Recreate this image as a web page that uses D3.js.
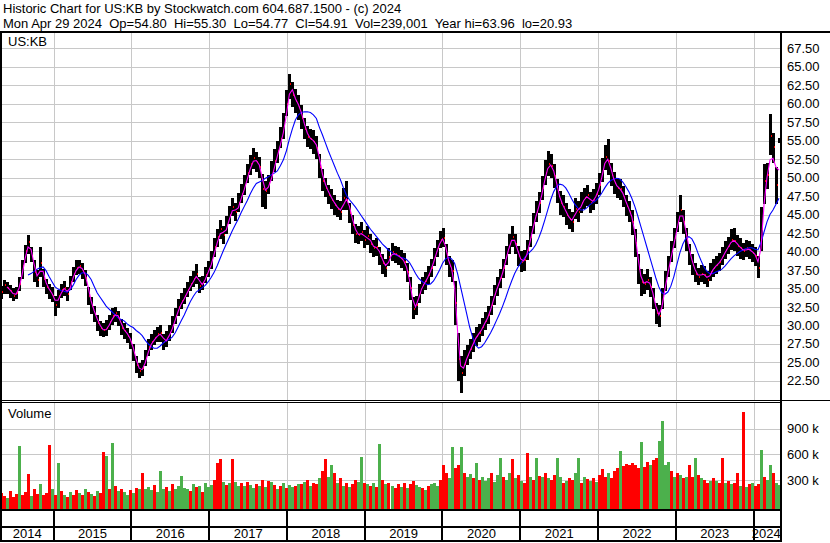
<!DOCTYPE html>
<html><head><meta charset="utf-8">
<script src="https://cdn.jsdelivr.net/npm/d3@7"></script>
<style>
html,body{margin:0;padding:0;background:#fff;}
svg{display:block;font-family:"Liberation Sans",Arial,sans-serif;}
text{white-space:pre;}
</style></head><body>
<svg id="chart" width="830" height="543"></svg>
<script>
const title = "Historic Chart for US:KB by Stockwatch.com 604.687.1500 - (c) 2024";
const subtitle = "Mon Apr 29 2024  Op=54.80  Hi=55.30  Lo=54.77  Cl=54.91  Vol=239,001  Year hi=63.96  lo=20.93";
const symbol = "US:KB";
const volumeTitle = "Volume";
const startDate = "2014-04-29", endDate = "2024-04-29";

const closes = [34.5,35.4,35.0,34.6,34.0,34.4,35.6,38.0,40.0,41.3,
 39.4,37.2,36.2,38.4,36.3,35.2,34.6,34.0,32.8,33.9,
 34.8,35.1,34.2,35.8,37.0,37.8,38.0,37.4,36.4,34.0,
 32.6,31.5,30.3,29.6,29.3,29.6,30.4,31.2,31.6,31.0,
 29.7,29.2,28.6,27.8,26.3,24.6,23.8,24.2,25.6,27.0,
 27.8,28.3,28.8,28.9,27.7,28.2,29.0,30.1,31.3,32.5,
 33.3,34.0,34.8,35.6,36.3,36.9,35.3,35.7,36.8,37.6,
 38.8,40.6,41.9,43.0,42.2,43.6,45.0,46.0,45.3,46.6,
 47.8,49.0,50.6,51.8,52.6,52.1,51.4,48.5,48.2,49.2,
 50.4,52.2,53.6,55.2,57.0,60.0,62.6,61.2,60.3,59.6,
 58.0,56.6,55.5,55.2,54.8,54.0,51.4,49.6,48.6,47.6,
 47.0,46.3,45.8,45.4,47.2,47.0,45.2,43.6,42.4,42.2,
 42.6,41.6,42.1,41.0,40.4,40.6,39.4,38.4,37.8,39.2,
 39.9,39.6,39.4,39.0,38.6,37.2,35.0,32.2,32.8,34.4,
 35.4,36.0,36.8,37.8,39.2,40.4,41.6,41.8,39.6,38.0,
 37.4,33.0,25.4,23.6,24.8,26.0,26.8,27.8,28.6,29.0,
 29.8,30.6,31.4,32.8,34.2,35.4,36.4,37.8,39.6,41.0,
 42.0,41.0,39.4,38.6,38.8,40.2,42.0,43.8,45.4,46.6,
 48.6,50.6,51.8,51.6,50.2,48.2,46.6,46.0,45.0,44.4,
 44.0,45.8,45.4,46.6,47.2,47.6,46.6,47.0,47.8,49.0,
 51.0,52.8,52.2,50.4,49.2,48.6,48.4,47.4,46.2,45.4,
 44.0,41.2,37.6,35.8,35.6,36.2,35.2,33.6,31.6,31.2,
 33.6,36.0,38.0,40.0,41.8,44.0,45.6,44.0,41.6,39.6,
 38.2,37.0,36.6,37.0,36.8,36.2,37.2,37.8,38.2,38.6,
 39.4,40.2,40.8,41.6,41.4,40.8,40.4,40.0,40.4,40.2,
 39.8,39.4,37.8,43.0,49.6,50.4,55.6,54.2,49.0,54.9];

const highs = [35.3,36.2,35.8,35.4,35.0,35.2,36.5,38.8,40.9,42.2,
 40.6,38.9,37.5,40.6,37.6,36.3,35.6,35.2,34.0,34.8,
 35.6,36.0,35.2,36.7,37.9,38.8,38.9,38.4,37.5,35.2,
 33.8,32.6,31.4,30.6,30.3,30.7,31.4,32.3,32.5,31.9,
 30.8,30.3,29.6,28.9,27.5,25.8,24.9,25.3,26.7,28.1,
 28.8,29.4,29.8,30.0,28.8,29.2,30.0,31.2,32.4,33.6,
 34.4,35.1,35.8,36.7,37.4,38.3,36.5,36.7,37.9,38.7,
 40.0,41.8,43.1,44.2,43.4,44.8,46.2,47.3,46.6,47.9,
 49.1,50.3,51.9,53.1,54.0,53.5,52.8,50.5,49.6,50.4,
 52.2,53.8,55.0,56.8,58.8,61.8,64.0,63.0,62.0,61.2,
 59.8,58.0,57.0,56.6,56.4,55.6,53.2,51.2,50.0,49.0,
 48.4,47.6,47.0,46.8,48.6,49.6,46.6,44.9,43.7,43.4,
 44.0,42.9,43.4,42.3,41.6,41.8,40.6,39.6,39.0,40.4,
 41.1,40.8,40.6,40.2,39.8,38.5,36.6,33.8,34.0,35.6,
 36.6,37.2,38.0,39.0,40.4,41.6,42.8,43.2,41.0,39.4,
 38.8,36.0,29.0,25.8,26.6,27.4,28.2,29.0,29.8,30.2,
 31.0,31.8,32.6,34.0,35.4,36.6,37.6,39.0,40.8,42.4,
 43.4,42.4,40.8,40.0,40.2,41.6,43.4,45.2,46.8,48.0,
 50.2,52.4,53.6,53.2,51.8,49.8,48.2,47.6,46.6,45.8,
 45.4,47.2,46.8,48.0,48.6,49.0,48.0,48.4,49.2,50.6,
 52.6,54.4,55.2,52.0,50.8,50.0,49.8,48.8,47.6,46.8,
 45.6,43.0,39.6,37.6,37.0,37.6,36.6,35.0,33.0,32.8,
 35.0,37.4,39.4,41.4,43.2,45.4,47.6,45.6,43.2,41.0,
 39.6,38.4,37.8,38.2,38.0,37.4,38.4,39.0,39.4,39.8,
 40.6,41.4,42.0,43.0,43.2,42.2,41.8,41.2,41.6,41.4,
 41.0,40.6,39.4,46.0,51.8,52.0,58.6,56.0,51.4,55.3];

const lows = [33.6,34.3,34.2,33.7,33.3,33.5,34.6,36.3,38.5,39.6,
 38.6,35.8,35.2,36.5,35.2,34.2,33.6,33.2,31.2,32.4,
 33.7,34.0,33.3,34.8,35.9,36.8,37.0,36.3,35.3,32.8,
 31.5,30.5,29.2,28.5,28.4,28.6,29.4,30.1,30.4,29.9,
 28.7,28.2,27.6,26.8,25.2,23.6,22.9,23.1,24.5,25.9,
 26.7,27.3,27.7,27.8,26.6,27.1,27.9,29.0,30.2,31.3,
 32.2,32.9,33.8,34.6,35.2,35.6,34.4,34.8,35.7,36.5,
 37.6,39.3,40.6,41.7,41.0,42.3,43.7,44.8,44.1,45.3,
 46.5,47.6,49.2,50.4,51.2,50.7,50.0,46.0,45.8,47.8,
 49.6,50.8,52.0,54.0,55.2,58.4,60.6,59.5,58.7,57.8,
 56.6,55.2,54.1,53.8,53.2,52.5,50.0,48.2,47.4,46.4,
 45.8,45.0,44.6,44.2,45.6,45.6,43.8,42.3,41.1,41.0,
 41.4,40.4,40.9,39.8,39.2,39.4,38.2,37.0,36.6,38.0,
 38.7,38.4,38.2,37.8,37.4,35.8,33.4,30.8,31.4,33.0,
 34.2,34.8,35.6,36.6,38.0,39.2,40.4,40.6,38.2,36.6,
 35.8,30.0,22.5,20.9,23.2,24.6,25.4,26.4,27.2,27.8,
 28.6,29.4,30.2,31.4,32.8,34.0,35.0,36.4,38.2,39.6,
 40.6,39.6,38.0,37.2,37.4,38.8,40.6,42.4,44.0,45.2,
 47.0,49.0,50.2,50.0,48.6,46.6,45.0,44.6,43.6,43.0,
 42.6,44.4,44.0,45.2,45.8,46.2,45.2,45.6,46.4,47.6,
 49.4,51.0,50.4,48.8,47.8,47.2,47.0,46.0,44.8,44.0,
 42.2,39.2,35.6,34.0,34.2,34.8,33.8,32.2,30.2,29.8,
 32.2,34.6,36.6,38.6,40.4,42.6,44.0,42.4,40.0,38.2,
 36.8,35.8,35.4,35.8,35.6,35.2,36.0,36.6,37.0,37.4,
 38.2,39.0,39.6,40.2,40.0,39.4,39.0,38.8,39.2,39.0,
 38.6,38.0,36.4,40.0,46.4,48.4,53.0,52.0,46.4,54.7];

const maFast = [null,null,35.2,34.8,34.3,34.2,35.0,36.8,39.0,40.6,
 40.3,38.3,36.7,37.3,37.3,35.8,34.9,34.3,33.4,33.4,
 34.3,35.0,34.6,35.0,36.4,37.4,37.9,37.7,36.9,35.2,
 33.3,32.0,30.9,30.0,29.4,29.4,30.0,30.8,31.4,31.3,
 30.3,29.4,28.9,28.2,27.0,25.4,24.2,24.0,24.9,26.3,
 27.4,28.0,28.5,28.8,28.3,27.9,28.6,29.5,30.7,31.9,
 32.9,33.6,34.4,35.2,35.9,36.6,36.1,35.5,36.2,37.2,
 38.2,39.7,41.2,42.4,42.6,42.9,44.3,45.5,45.6,45.9,
 47.2,48.4,49.8,51.2,52.2,52.3,51.7,49.9,48.3,48.7,
 49.8,51.3,52.9,54.4,56.1,58.5,61.3,61.9,60.7,59.9,
 58.8,57.3,56.0,55.3,55.0,54.4,52.7,50.5,49.1,48.1,
 47.3,46.6,46.0,45.6,46.3,47.1,46.1,44.4,43.0,42.3,
 42.4,42.1,41.8,41.5,40.7,40.5,40.0,38.9,38.1,38.5,
 39.5,39.7,39.5,39.2,38.8,37.9,36.1,33.6,32.5,33.6,
 34.9,35.7,36.4,37.3,38.5,39.8,41.0,41.7,40.7,38.8,
 37.7,35.2,29.2,24.5,24.2,25.4,26.4,27.3,28.2,28.8,
 29.4,30.2,31.0,32.1,33.5,34.8,35.9,37.1,38.7,40.3,
 41.5,41.5,40.2,39.0,38.7,39.5,41.1,42.9,44.6,46.0,
 47.6,49.6,51.2,51.7,50.9,49.2,47.4,46.3,45.5,44.7,
 44.2,44.9,45.6,46.0,46.9,47.4,47.1,46.8,47.4,48.4,
 50.0,51.9,52.5,51.3,49.8,48.9,48.5,47.9,46.8,45.8,
 44.7,42.6,39.4,36.7,35.7,35.9,35.7,34.4,32.6,31.4,
 32.4,34.8,37.0,39.0,40.9,42.9,44.8,44.8,42.8,40.6,
 38.9,37.6,36.8,36.8,36.9,36.5,36.7,37.5,38.0,38.4,
 39.0,39.8,40.5,41.2,41.5,41.1,40.6,40.2,40.2,40.3,
 40.0,39.6,38.6,40.4,46.3,50.0,52.4,52.6,51.4,51.0];

const maSlow = [null,null,null,null,null,null,null,null,null,36.8,
 37.0,37.3,37.6,37.8,37.9,37.4,36.6,35.9,35.2,34.9,
 34.7,34.6,34.5,34.8,35.4,36.2,36.8,37.1,37.1,36.8,
 36.2,35.3,34.4,33.8,33.2,32.6,32.2,31.8,31.4,31.0,
 30.8,30.6,30.2,29.9,29.7,29.3,29.0,28.6,28.0,27.5,
 27.1,26.9,26.9,27.2,27.6,27.9,28.1,28.4,29.0,29.8,
 30.6,31.4,32.3,33.2,33.9,34.5,34.8,35.1,35.4,35.9,
 36.5,37.2,38.1,39.1,40.1,41.0,41.9,42.8,43.6,44.4,
 45.3,46.1,46.9,47.8,48.6,49.2,49.4,49.6,49.9,50.1,
 50.4,50.6,50.9,51.6,52.4,53.6,55.2,56.6,57.8,58.5,
 58.8,58.9,58.9,58.8,58.5,58.0,56.8,55.8,54.7,53.6,
 52.6,51.6,50.6,49.7,48.6,47.6,47.0,46.5,46.0,45.4,
 44.8,44.2,43.6,43.0,42.5,42.0,41.5,41.0,40.6,40.2,
 39.9,39.6,39.4,39.2,39.1,38.9,38.5,37.8,37.0,36.4,
 36.0,35.7,35.5,35.6,36.0,36.7,37.5,38.4,39.0,39.2,
 39.0,38.4,37.0,35.2,33.4,31.6,29.8,28.4,27.3,26.9,
 27.1,27.6,28.3,29.0,29.8,30.7,31.6,32.6,33.7,34.9,
 36.0,37.0,37.8,38.4,39.0,39.5,39.9,40.3,40.9,41.8,
 42.9,44.2,45.6,47.0,48.1,48.8,49.1,49.0,48.6,47.9,
 47.1,46.4,45.9,45.6,45.6,45.9,46.3,46.6,46.9,47.3,
 47.9,48.6,49.2,49.6,49.8,49.9,49.8,49.4,48.8,48.1,
 47.2,46.1,44.8,43.4,42.0,40.6,39.2,37.8,36.4,35.2,
 34.4,34.2,34.5,35.3,36.6,38.2,39.8,41.0,41.8,42.0,
 41.7,40.9,39.8,38.8,37.9,37.3,37.0,37.0,37.2,37.4,
 37.6,38.0,38.5,39.0,39.4,39.7,40.0,40.2,40.4,40.5,
 40.5,40.3,40.2,41.2,42.6,44.0,45.0,45.6,46.4,47.2];

// volume, thousands of shares
const volumes = [150,110,90,170,100,140,700,120,160,370,
 110,190,140,250,120,150,710,200,130,500,
 170,130,100,160,130,180,150,120,190,160,
 140,110,170,150,630,580,190,735,230,170,
 190,160,130,180,150,210,190,380,200,220,
 180,240,160,410,190,220,170,250,200,230,
 350,210,190,170,250,220,230,160,260,220,
 240,300,500,550,280,240,260,550,280,230,
 260,230,280,240,210,250,230,300,220,290,
 280,240,200,230,260,210,240,220,230,250,
 250,280,300,230,270,250,320,400,545,340,
 470,380,260,320,230,270,220,250,300,280,
 570,270,250,230,270,220,720,300,250,270,
 230,210,250,220,270,210,250,290,240,220,
 210,180,230,250,270,230,300,470,380,320,
 680,440,470,680,380,330,370,320,500,300,
 340,290,320,380,280,360,560,340,300,380,
 540,320,360,290,270,610,340,300,560,350,
 340,380,320,300,360,560,340,270,290,320,
 300,380,560,270,340,310,290,320,280,360,
 430,340,380,320,400,440,640,460,490,470,
 500,470,440,740,450,510,470,530,560,760,
 990,470,510,400,340,380,360,320,340,470,
 340,560,360,320,300,270,290,320,290,270,
 560,270,290,250,270,380,230,1090,220,250,
 270,230,250,650,340,300,470,380,270,239];

// bar colour in the volume panel: g = up (green), r = down (red)
const volumeDirection = ("rrgrrrgrrr" + "grrgrrrgrg" + "rgrgrrgrgr" + "grgrrgrgrg" + "rggrgrgrgg" +
  "grgggrgrgg" + "gggrgrgrgg" + "grrrgrgrgg" + "rgrggrgrgr" + "grgrgrggrg" +
  "rgrgrrgrrg" + "grgrgrgrrg" + "grgrgrgrgr" + "grrgrgrrgg" + "rgrgggrrrg" +
  "grrgrggrgr" + "gggrgggrgg" + "rgrgrrgrgr" + "grgrrggrgr" + "rggrgrgrgr" +
  "rrgrrrgrrr" + "rrrgrrgrrg" + "gggrgrgrgr" + "rgrgrrgrgr" + "rgrgrrgrgr" + "grrgrggrgg").split("");

const priceTicks = [22.5,25,27.5,30,32.5,35,37.5,40,42.5,45,47.5,50,52.5,55,57.5,60,62.5,65,67.5];
const volumeTicks = [300,600,900];
const yearLabels = ["2014","2015","2016","2017","2018","2019","2020","2021","2022","2023","2024"];

// ---------- drawing ----------
const svg = d3.select("#chart");
const W = 830, H = 543;
const PL = 2, PR = 780, AXX = 782;
const P_TOP = 33, P_BOT = 400, V_TOP = 403, V_BOT = 509;
const GRID = "#c8c8c8";
const FONT = '"Liberation Sans", Arial, sans-serif';
const GREEN = "#4cb04c", RED = "#ff0000";

svg.append("rect").attr("width", W).attr("height", H).attr("fill", "#fff");

const parse = d3.timeParse("%Y-%m-%d");
const t0 = parse(startDate), t1 = parse(endDate);
const N = closes.length;
const dates = closes.map((_, i) => new Date(+t0 + (t1 - t0) * i / (N - 1)));

const x = d3.scaleTime().domain([t0, t1]).range([1, 779]);
const yP = d3.scaleLinear().domain([22.5, 67.5]).range([380.7, 48.3]);
const yV = d3.scaleLinear().domain([0, 900]).range([505.7, 428.6]);

const defs = svg.append("defs");
defs.append("clipPath").attr("id", "clipP").append("rect")
  .attr("x", PL).attr("y", P_TOP).attr("width", PR - PL).attr("height", P_BOT - P_TOP);
defs.append("clipPath").attr("id", "clipV").append("rect")
  .attr("x", PL).attr("y", V_TOP).attr("width", PR - PL).attr("height", V_BOT - V_TOP);

// header text
svg.append("text").attr("x", 3).attr("y", 13).attr("font-size", 13).attr("font-family", FONT).text(title);
svg.append("text").attr("x", 3).attr("y", 28).attr("font-size", 13).attr("font-family", FONT).text(subtitle);

// grid lines
const yearStarts = d3.timeYear.range(d3.timeYear.ceil(t0), t1);
const gridG = svg.append("g").attr("stroke", GRID).attr("stroke-width", 1).attr("shape-rendering", "crispEdges");
gridG.selectAll("line.hp").data(priceTicks).join("line")
  .attr("x1", PL).attr("x2", PR)
  .attr("y1", d => Math.round(yP(d)) + 0.5).attr("y2", d => Math.round(yP(d)) + 0.5);
gridG.selectAll("line.hv").data(volumeTicks).join("line")
  .attr("x1", PL).attr("x2", PR)
  .attr("y1", d => Math.round(yV(d)) + 0.5).attr("y2", d => Math.round(yV(d)) + 0.5);
yearStarts.forEach(d => {
  const xx = Math.round(x(d)) + 0.5;
  gridG.append("line").attr("x1", xx).attr("x2", xx).attr("y1", P_TOP).attr("y2", P_BOT);
  gridG.append("line").attr("x1", xx).attr("x2", xx).attr("y1", V_TOP).attr("y2", V_BOT);
});

// price bars
const pg = svg.append("g").attr("clip-path", "url(#clipP)").attr("shape-rendering", "crispEdges");
pg.selectAll("rect.bar").data(dates).join("rect")
  .attr("x", d => Math.round(x(d)) - 1)
  .attr("width", 3)
  .attr("y", (d, i) => yP(highs[i]))
  .attr("height", (d, i) => Math.max(1, yP(lows[i]) - yP(highs[i])))
  .attr("fill", "#000");
pg.selectAll("rect.cl").data(dates).join("rect")
  .attr("x", d => Math.round(x(d)) + 1)
  .attr("width", 1)
  .attr("y", (d, i) => yP(closes[i]) - 1)
  .attr("height", 2)
  .attr("fill", RED);

// moving averages
const mkLine = arr => d3.line()
  .defined((d, i) => arr[i] != null)
  .x(d => x(d))
  .y((d, i) => yP(arr[i]));
const mg = svg.append("g").attr("clip-path", "url(#clipP)").attr("fill", "none");
mg.append("path").attr("d", mkLine(maSlow)(dates)).attr("stroke", "#0000ff").attr("stroke-width", 1.1);
mg.append("path").attr("d", mkLine(maFast)(dates)).attr("stroke", "#ff00ff").attr("stroke-width", 1.1);

// volume bars
const vg = svg.append("g").attr("clip-path", "url(#clipV)").attr("shape-rendering", "crispEdges");
vg.selectAll("rect").data(dates).join("rect")
  .attr("x", d => Math.round(x(d)) - 1)
  .attr("width", 3)
  .attr("y", (d, i) => yV(volumes[i]))
  .attr("height", (d, i) => V_BOT - yV(volumes[i]))
  .attr("fill", (d, i) => volumeDirection[i] === "g" ? GREEN : RED);

// panel labels
svg.append("text").attr("x", 8).attr("y", 46).attr("font-size", 13).attr("font-family", FONT).text(symbol);
svg.append("text").attr("x", 8).attr("y", 418).attr("font-size", 13).attr("font-family", FONT).text(volumeTitle);

// axes
const ax1 = svg.append("g").attr("transform", `translate(${AXX},0)`)
  .call(d3.axisRight(yP).tickValues(priceTicks).tickSize(0).tickPadding(5).tickFormat(d3.format(".2f")));
ax1.select(".domain").remove();
ax1.attr("font-size", 13).attr("font-family", FONT);
ax1.selectAll("text").attr("fill", "#000");

const ax2 = svg.append("g").attr("transform", `translate(${AXX},0)`)
  .call(d3.axisRight(yV).tickValues(volumeTicks).tickSize(0).tickPadding(5).tickFormat(d => d + " k"));
ax2.select(".domain").remove();
ax2.attr("font-size", 13).attr("font-family", FONT);
ax2.selectAll("text").attr("fill", "#000");

// frame
const fr = svg.append("g").attr("fill", "#000").attr("shape-rendering", "crispEdges");
fr.append("rect").attr("x", 0).attr("y", 31).attr("width", W).attr("height", 2);
fr.append("rect").attr("x", 0).attr("y", 31).attr("width", 2).attr("height", 511);
fr.append("rect").attr("x", 780).attr("y", 31).attr("width", 2).attr("height", 511);
fr.append("rect").attr("x", 0).attr("y", 400).attr("width", W).attr("height", 1);
fr.append("rect").attr("x", 0).attr("y", 402).attr("width", 782).attr("height", 1);
fr.append("rect").attr("x", 0).attr("y", 509).attr("width", 782).attr("height", 2);
fr.append("rect").attr("x", 0).attr("y", 526).attr("width", 782).attr("height", 2);
fr.append("rect").attr("x", 0).attr("y", 540).attr("width", 782).attr("height", 2);
yearStarts.forEach(d => {
  fr.append("rect").attr("x", Math.round(x(d)) - 1).attr("y", 511).attr("width", 2).attr("height", 29);
});

// year labels
const bounds = [t0, ...yearStarts, t1];
svg.append("g").attr("font-size", 13).attr("font-family", FONT).attr("text-anchor", "middle")
  .selectAll("text").data(yearLabels).join("text")
  .attr("x", (d, i) => (x(bounds[i]) + x(bounds[i + 1])) / 2)
  .attr("y", 538)
  .text(d => d);
</script>
</body></html>
